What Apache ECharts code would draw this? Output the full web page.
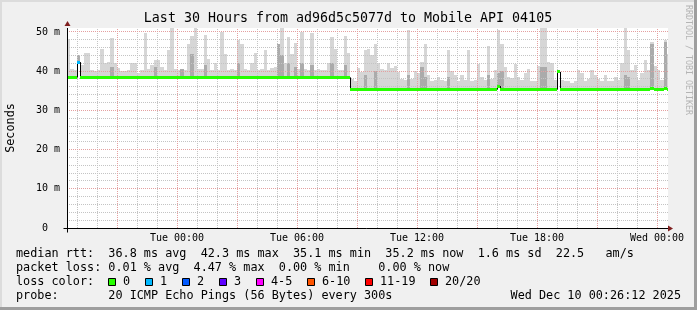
<!DOCTYPE html>
<html><head><meta charset="utf-8">
<script src="https://cdn.jsdelivr.net/npm/echarts@6/dist/echarts.min.js"></script>
<style>html,body{margin:0;padding:0;background:#f0f0f0}#c{width:697px;height:310px}</style>
</head><body><div id="c"></div>
<script>
// ---- data (hours relative to Tue 00:00, values in ms) ----
const T0 = -5.5;          // first sample (Mon 18:30)
const STEP = 1 / 6;       // 10 minute samples
const X_MAX = 24.55;
const Y_MAX = 51;

const median = [
 38.4,38.4,38.4,42.3,38.4,38.4,38.4,38.4,38.4,38.4,
 38.4,38.4,38.4,38.4,38.4,38.4,38.4,38.4,38.4,38.4,
 38.4,38.4,38.4,38.4,38.4,38.4,38.4,38.4,38.4,38.4,
 38.4,38.4,38.4,38.4,38.4,38.4,38.4,38.4,38.4,38.4,
 38.4,38.4,38.4,38.4,38.4,38.4,38.4,38.4,38.4,38.4,
 38.4,38.4,38.4,38.4,38.4,38.4,38.4,38.4,38.4,38.4,
 38.4,38.4,38.4,38.4,38.4,38.4,38.4,38.4,38.4,38.4,
 38.4,38.4,38.4,38.4,38.4,38.4,38.4,38.4,38.4,38.4,
 38.4,38.4,38.4,38.4,38.4,35.3,35.3,35.3,35.3,35.3,
 35.3,35.3,35.3,35.3,35.3,35.3,35.3,35.3,35.3,35.3,
 35.3,35.3,35.3,35.3,35.3,35.3,35.3,35.3,35.3,35.3,
 35.3,35.3,35.3,35.3,35.3,35.3,35.3,35.3,35.3,35.3,
 35.3,35.3,35.3,35.3,35.3,35.3,35.3,35.3,35.3,36.2,
 35.3,35.3,35.3,35.3,35.3,35.3,35.3,35.3,35.3,35.3,
 35.3,35.3,35.3,35.3,35.3,35.3,35.3,39.8,35.3,35.3,
 35.3,35.3,35.3,35.3,35.3,35.3,35.3,35.3,35.3,35.3,
 35.3,35.3,35.3,35.3,35.3,35.3,35.3,35.3,35.3,35.3,
 35.3,35.3,35.3,35.3,35.3,35.7,35.3,35.3,35.3,35.7,
 35.2
];
const loss = [
 0,0,0,1,0,0,0,0,0,0, 0,0,0,0,0,0,0,0,0,0,
 0,0,0,0,0,0,0,0,0,0, 0,0,0,0,0,0,0,0,0,0,
 0,0,0,0,0,0,0,0,0,0, 0,0,0,0,0,0,0,0,0,0,
 0,0,0,0,0,0,0,0,0,0, 0,0,0,0,0,0,0,0,0,0,
 0,0,0,0,0,0,0,0,0,0, 0,0,0,0,0,0,0,0,0,0,
 0,0,0,0,0,0,0,0,0,0, 0,0,0,0,0,0,0,0,0,0,
 0,0,0,0,0,0,0,0,0,0, 0,0,0,0,0,0,0,0,0,0,
 0,0,0,0,0,0,0,0,0,0, 0,0,0,0,0,0,0,0,0,0,
 0,0,0,0,0,0,0,0,0,0, 0
];
const smokeMax = [
 48.3,40.5,40.2,44.0,41.6,44.5,44.5,40.3,40.0,40.4,
 45.7,42.0,42.3,48.5,42.0,40.8,40.0,40.1,40.3,42.0,
 42.0,39.6,40.2,49.7,40.6,41.6,42.9,42.9,41.0,40.4,
 45.3,51.0,40.5,40.2,40.6,40.3,46.8,49.0,51.0,40.5,
 40.6,49.2,43.2,40.4,42.0,40.3,50.0,44.3,40.2,40.5,
 40.3,47.9,46.9,40.5,40.3,42.2,44.5,40.3,40.6,45.3,
 40.4,40.8,41.0,47.0,51.0,42.0,48.7,44.3,47.3,40.6,
 50.0,40.5,40.3,49.6,40.4,40.6,40.3,40.2,42.0,48.7,
 45.7,40.4,40.3,49.0,44.5,38.0,37.6,40.7,39.9,45.3,
 45.7,44.0,47.0,42.0,40.6,40.3,42.0,40.7,41.2,39.8,
 38.0,37.8,50.4,38.0,40.0,39.5,42.3,46.8,39.0,37.6,
 37.8,38.6,37.8,37.5,45.3,40.0,38.9,37.6,38.9,37.8,
 45.3,37.6,37.8,41.7,38.6,37.8,46.4,38.0,40.2,50.5,
 46.8,41.0,38.6,38.2,41.9,38.6,37.8,39.4,40.6,37.4,
 37.6,41.3,51.0,51.0,42.3,42.0,37.8,40.3,37.8,37.4,
 37.6,37.0,37.4,40.3,39.5,37.4,38.0,40.3,39.0,38.0,
 37.6,39.0,37.6,37.4,38.6,37.8,42.0,51.0,45.4,40.3,
 41.6,37.8,39.6,42.9,40.3,47.4,41.2,40.3,37.8,47.9,
 44.3
];
const smokeDark = [
 0,0,0,44.0,0,0,0,0,0,0,
 0,0,0,41.0,0,0,0,0,0,0,
 0,0,0,0,0,0,41.0,0,0,0,
 0,0,0,0,40.6,0,0,44.3,0,0,
 0,41.5,0,0,0,0,0,0,0,0,
 0,42.0,0,0,0,0,0,0,0,0,
 0,0,0,47.0,44.0,0,42.0,0,41.0,0,
 42.0,0,0,41.5,0,0,0,0,0,42.0,
 0,0,0,41.5,0,0,0,0,0,39.0,
 0,0,40.0,0,0,0,0,0,0,0,
 0,0,39.0,0,0,0,41.0,38.5,0,0,
 0,0,0,0,38.5,0,0,0,0,0,
 0,0,0,0,0,0,39.0,0,0,39.5,
 40.0,0,0,0,0,0,0,0,0,0,
 0,0,41.0,41.0,0,0,0,39.5,0,0,
 0,0,0,0,0,0,0,0,0,0,
 0,0,0,0,0,0,0,39.0,38.5,0,
 0,0,0,0,0,47.0,0,0,0,47.5,
 0
];

const xLabelHours = [0, 6, 12, 18, 24];
const xLabelTexts = ['Tue 00:00', 'Tue 06:00', 'Tue 12:00', 'Tue 18:00', 'Wed 00:00'];
const yLabelValues = [0, 10, 20, 30, 40, 50];
const yLabelTexts = ['0  ', '10 m', '20 m', '30 m', '40 m', '50 m'];
const vGridMinor = [-5,-4,-2,-1,1,2,4,5,7,8,10,11,13,14,16,17,19,20,22,23];
const vGridMajor = [-3,0,3,6,9,12,15,18,21,24];
const hGridMinor = [2,4,6,8,12,14,16,18,22,24,26,28,32,34,36,38,42,44,46,48];
const hGridMajor = [10,20,30,40,50];

const lossLabels = ['0', '1', '2', '3', '4-5', '6-10', '11-19', '20/20'];
const lossColors = ['#26ff00', '#00b8ff', '#0059ff', '#5e00ff', '#ff00ff', '#ff5500', '#ff0000', '#a10000'];

const titleText = 'Last 30 Hours from ad96d5c5077d to Mobile API 04105';
const yTitle = 'Seconds';
const legendLines = [
  'median rtt:  36.8 ms avg  42.3 ms max  35.1 ms min  35.2 ms now  1.6 ms sd  22.5   am/s',
  'packet loss: 0.01 % avg  4.47 % max  0.00 % min    0.00 % now',
  'loss color:',
  'probe:       20 ICMP Echo Pings (56 Bytes) every 300s'
];
const stampText = 'Wed Dec 10 00:26:12 2025';

// ---- chart ----
const MONO = 'DejaVu Sans Mono';
const times = median.map((_, i) => T0 + i * STEP);
const chart = echarts.init(document.getElementById('c'), null, {renderer: 'canvas'});

function crisp(v) { return Math.floor(v) + 0.5; }

function vGridRender(color) {
  return function (params, api) {
    const h = api.value(0);
    const p0 = api.coord([h, 0]);
    const p1 = api.coord([h, Y_MAX]);
    const x = crisp(p0[0]);
    return {type: 'line', shape: {x1: x, y1: p0[1], x2: x, y2: p1[1]},
      style: {stroke: color, lineWidth: 1, lineDash: [1, 1]}};
  };
}
function hGridRender(color) {
  return function (params, api) {
    const v = api.value(1);
    const p0 = api.coord([T0, v]);
    const p1 = api.coord([X_MAX, v]);
    const y = crisp(p0[1]);
    return {type: 'line', shape: {x1: p0[0], y1: y, x2: p1[0], y2: y},
      style: {stroke: color, lineWidth: 1, lineDash: [1, 1]}};
  };
}

function smokeRender(params, api) {
  const i = params.dataIndex;
  const t = api.value(0);
  const x0 = Math.round(api.coord([t, 0])[0]);
  const x1 = Math.round(api.coord([t + STEP, 0])[0]);
  const yMed = Math.round(api.coord([t, median[i]])[1]);
  const yHi = Math.round(api.coord([t, api.value(1)])[1]);
  const children = [{type: 'rect', shape: {x: x0, y: yHi, width: x1 - x0, height: yMed - yHi},
    style: {fill: '#d6d6d6'}}];
  if (smokeDark[i] > 0) {
    const yD = Math.round(api.coord([t, smokeDark[i]])[1]);
    children.push({type: 'rect', shape: {x: x0, y: yD, width: x1 - x0, height: yMed - yD},
      style: {fill: '#ababab'}});
  }
  return {type: 'group', children: children};
}

function medianRender(params, api) {
  const i = params.dataIndex;
  const t = api.value(0);
  const v = api.value(1);
  const x0 = Math.round(api.coord([t, 0])[0]);
  const x1 = Math.round(api.coord([t + STEP, 0])[0]);
  const y = api.coord([t, v])[1];
  const children = [];
  if (i > 0 && median[i - 1] !== v) {
    const yp = api.coord([t, median[i - 1]])[1];
    children.push({type: 'line', shape: {x1: x0 + 0.5, y1: yp, x2: x0 + 0.5, y2: y},
      style: {stroke: '#000', lineWidth: 1}});
  }
  children.push({type: 'rect', shape: {x: x0, y: Math.round(y - 1.5), width: x1 - x0, height: 3},
    style: {fill: lossColors[loss[i] || 0]}});
  return {type: 'group', children: children};
}

const option = {
  animation: false,
  backgroundColor: '#f0f0f0',
  grid: {left: 67, top: 28, width: 601, height: 200, show: true, backgroundColor: '#ffffff', borderWidth: 0,
    containLabel: false, outerBoundsMode: 'none'},
  xAxis: {
    type: 'value', min: T0, max: X_MAX,
    axisLine: {show: false}, axisTick: {show: false}, splitLine: {show: false},
    axisLabel: {
      customValues: xLabelHours,
      formatter: function (v) { const k = xLabelHours.indexOf(v); return k >= 0 ? xLabelTexts[k] : ''; },
      fontFamily: MONO, fontSize: 10, color: '#000', margin: 5
    }
  },
  yAxis: {
    type: 'value', min: 0, max: Y_MAX, interval: 10,
    axisLine: {show: false}, axisTick: {show: false}, splitLine: {show: false},
    axisLabel: {
      showMaxLabel: false,
      formatter: function (v) { const k = yLabelValues.indexOf(v); return k < 0 ? '' : yLabelTexts[k]; },
      fontFamily: MONO, fontSize: 10, color: '#000', margin: 7
    }
  },
  series: [
    {type: 'custom', name: 'smoke', coordinateSystem: 'cartesian2d', silent: true, clip: true, z: 2,
      renderItem: smokeRender, data: times.map((t, i) => [t, smokeMax[i]])},
    {type: 'custom', name: 'vminor', silent: true, z: 3, renderItem: vGridRender('#c4c4c4'),
      data: vGridMinor.map(h => [h, 0])},
    {type: 'custom', name: 'hminor', silent: true, z: 3, renderItem: hGridRender('#c4c4c4'),
      data: hGridMinor.map(v => [T0, v])},
    {type: 'custom', name: 'vmajor', silent: true, z: 3, renderItem: vGridRender('#e4a0a0'),
      data: vGridMajor.map(h => [h, 0])},
    {type: 'custom', name: 'hmajor', silent: true, z: 3, renderItem: hGridRender('#e4a0a0'),
      data: hGridMajor.map(v => [T0, v])},
    {type: 'custom', name: 'median', coordinateSystem: 'cartesian2d', silent: true, clip: true, z: 4,
      renderItem: medianRender, data: times.map((t, i) => [t, median[i]])}
  ]
};
chart.setOption(option);

// decorations positioned through the chart's own scales
const px = (x, y) => chart.convertToPixel({gridIndex: 0}, [x, y]);
const o = px(T0, 0), xr = px(X_MAX, 0), yt = px(T0, Y_MAX);
const ox = Math.floor(o[0]) + 0.5, oy = Math.floor(o[1]) + 0.5;
const gfx = [
  // frame shading
  {type: 'rect', shape: {x: 0, y: 0, width: 697, height: 2}, style: {fill: '#dcdcdc'}, z: 100},
  {type: 'rect', shape: {x: 0, y: 0, width: 2, height: 310}, style: {fill: '#dcdcdc'}, z: 100},
  {type: 'rect', shape: {x: 0, y: 307, width: 697, height: 3}, style: {fill: '#9e9e9e'}, z: 101},
  {type: 'rect', shape: {x: 694, y: 0, width: 3, height: 310}, style: {fill: '#9e9e9e'}, z: 101},
  // axes
  {type: 'line', shape: {x1: ox - 4, y1: oy, x2: xr[0] + 1, y2: oy}, style: {stroke: '#000', lineWidth: 1}, z: 50},
  {type: 'line', shape: {x1: ox, y1: oy + 4, x2: ox, y2: yt[1]}, style: {stroke: '#000', lineWidth: 1}, z: 50},
  {type: 'polygon', shape: {points: [[xr[0], oy - 3], [xr[0] + 5, oy], [xr[0], oy + 3]]}, style: {fill: '#7f1f1f'}, z: 51},
  {type: 'polygon', shape: {points: [[ox - 3, yt[1] - 2], [ox, yt[1] - 7], [ox + 3, yt[1] - 2]]}, style: {fill: '#7f1f1f'}, z: 51},
  // title
  {type: 'text', x: 348, y: 19, z: 60, style: {text: titleText, font: '13.3px "DejaVu Sans Mono"', fill: '#000', textAlign: 'center', textVerticalAlign: 'middle'}},
  // vertical axis title
  {type: 'text', x: 11, y: (o[1] + yt[1]) / 2, rotation: Math.PI / 2, z: 60, style: {text: yTitle, font: '11.8px "DejaVu Sans Mono"', fill: '#000', textAlign: 'center', textVerticalAlign: 'middle'}},
  // watermark
  {type: 'text', x: 688, y: 60, rotation: -Math.PI / 2, z: 60, style: {text: 'RRDTOOL / TOBI OETIKER', font: '8.3px "DejaVu Sans Mono"', fill: '#b4b4b4', textAlign: 'center', textVerticalAlign: 'middle'}},
  // stamp
  {type: 'text', x: 681, y: 296, z: 60, style: {text: stampText, font: '11.8px "DejaVu Sans Mono"', fill: '#000', textAlign: 'right', textVerticalAlign: 'middle'}}
];
const lineY = [254, 268, 282, 296];
legendLines.forEach((s, k) => gfx.push({type: 'text', x: 16, y: lineY[k], z: 60,
  style: {text: s, font: '11.8px "DejaVu Sans Mono"', fill: '#000', textAlign: 'left', textVerticalAlign: 'middle'}}));
const boxX = [108, 145, 182, 219, 256, 307, 365, 430];
lossLabels.forEach((lab, k) => {
  gfx.push({type: 'rect', shape: {x: boxX[k] + 0.5, y: 278.5, width: 7, height: 7}, style: {fill: lossColors[k], stroke: '#000', lineWidth: 1}, z: 60});
  gfx.push({type: 'text', x: boxX[k] + 15, y: 282, z: 60, style: {text: lab, font: '11.8px "DejaVu Sans Mono"', fill: '#000', textAlign: 'left', textVerticalAlign: 'middle'}});
});
chart.setOption({graphic: gfx});
</script></body></html>
